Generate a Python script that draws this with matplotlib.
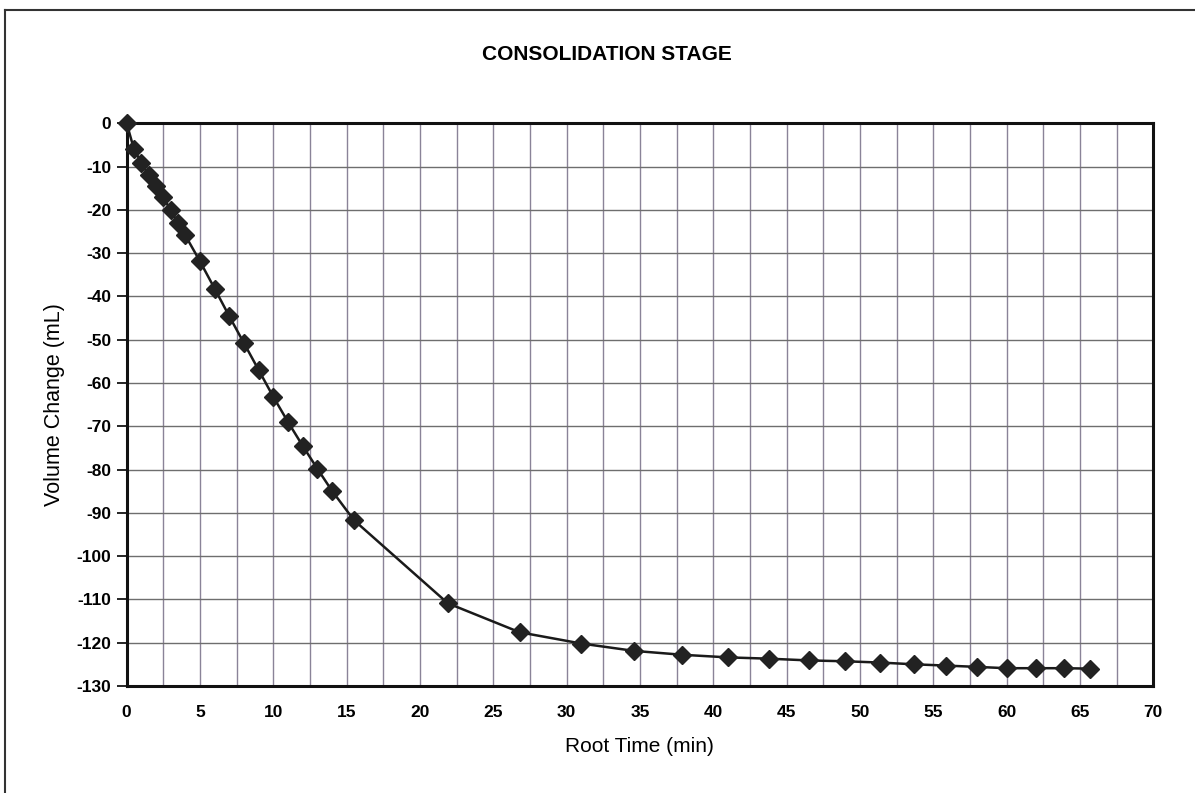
import matplotlib
matplotlib.use("Agg")
import matplotlib.pyplot as plt
from matplotlib.lines import Line2D

plt.rcParams['font.family'] = ['Liberation Sans', 'DejaVu Sans']
plt.rcParams['axes.unicode_minus'] = False

# root time (min) vs volume change (mL)
root_time = [0, 0.5, 1, 1.5, 2, 2.5, 3, 3.5, 4, 5, 6, 7, 8, 9, 10, 11, 12, 13, 14,
             15.5, 21.9, 26.8, 31.0, 34.6, 37.9, 41.0, 43.8, 46.5, 49.0, 51.4,
             53.7, 55.9, 58.0, 60.0, 62.0, 63.9, 65.7]
volume_change = [0, -6.0, -9.1, -12.0, -14.5, -17.1, -20.1, -23.0, -25.9, -31.9,
                 -38.2, -44.6, -50.8, -57.0, -63.2, -69.0, -74.5, -79.8, -84.9,
                 -91.7, -110.9, -117.6, -120.2, -121.9, -122.8, -123.4, -123.7,
                 -124.1, -124.3, -124.6, -125.0, -125.3, -125.6, -125.9, -125.9,
                 -125.9, -126.0]

x_ticks = list(range(0, 71, 5))
y_ticks = list(range(-130, 1, 10))

fig = plt.figure(figsize=(11.95, 7.93), dpi=100)
ax = fig.add_axes([0.106, 0.135, 0.859, 0.7095])

ax.plot(root_time, volume_change, color='#1a1a1a', lw=1.8, marker='D',
        ms=9, mfc='#222222', mec='#222222', zorder=5, clip_on=False)

ax.set_xlim(0, 70)
ax.set_ylim(-130, 0)
ax.set_xticks(x_ticks)
ax.set_xticks([v + 2.5 for v in x_ticks[:-1]], minor=True)
ax.set_yticks(y_ticks)
ax.grid(axis='x', which='both', color='#8a8398', lw=1.0)
ax.grid(axis='y', which='major', color='#6e6e6e', lw=1.0)
ax.set_axisbelow(True)

ax.tick_params(axis='x', which='both', length=0, pad=14, labelsize=12.5)
ax.tick_params(axis='y', length=7, width=1.2, pad=4, labelsize=12.5)
for lab in ax.get_xticklabels() + ax.get_yticklabels():
    lab.set_fontweight('bold')

for s in ax.spines.values():
    s.set_linewidth(2.2)
    s.set_color('#111111')

ax.set_xlabel('Root Time (min)', fontsize=15, labelpad=12)
ax.set_ylabel('Volume Change (mL)', fontsize=15.5, labelpad=8)
fig.text(0.508, 0.931, 'CONSOLIDATION STAGE', ha='center', va='center',
         fontsize=15, fontweight='bold')

# outer chart frame (cut by the page edge on right and bottom)
fig.add_artist(Line2D([0.0045, 0.0045], [0.0, 0.987], color='#333333', lw=1.5))
fig.add_artist(Line2D([0.0045, 1.0], [0.987, 0.987], color='#333333', lw=1.5))

fig.savefig('out.png', dpi=100)
